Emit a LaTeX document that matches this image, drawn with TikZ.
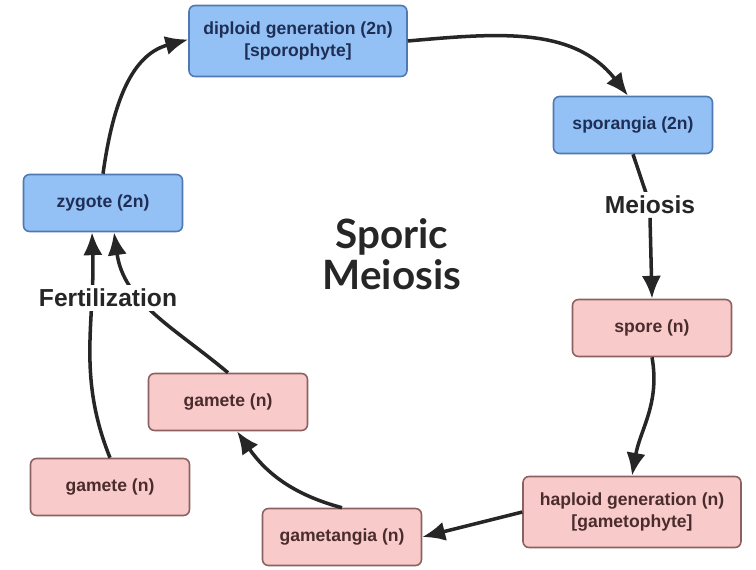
\documentclass[tikz,border=0pt]{standalone}
\usepackage{fontspec}
\setmainfont{Liberation Sans}
\newfontfamily\titlefont{Lato}
\usetikzlibrary{arrows.meta}
\definecolor{dipfill}{HTML}{93C1F5}
\definecolor{dipdraw}{HTML}{4F79B0}
\definecolor{diptext}{HTML}{1E2E55}
\definecolor{hapfill}{HTML}{F9CACA}
\definecolor{hapdraw}{HTML}{8C6161}
\definecolor{haptext}{HTML}{4A2C2C}
\definecolor{cyclegray}{HTML}{262626}
\tikzset{
  stagebox/.style = {rounded corners=0.12cm, line width=0.9pt, align=center,
    font=\bfseries\fontsize{10}{12.5}\selectfont,
    minimum width=3.18cm, minimum height=1.14cm, inner sep=0pt},
  dipbox/.style = {stagebox, draw=dipdraw, fill=dipfill, text=diptext},
  hapbox/.style = {stagebox, draw=hapdraw, fill=hapfill, text=haptext},
  bigbox/.style = {minimum width=4.36cm, minimum height=1.42cm},
  steplabel/.style = {fill=white, text=cyclegray, inner sep=2pt,
    font=\bfseries\fontsize{14}{16}\selectfont},
  cycle/.style = {->, line width=2pt, draw=cyclegray}
}
\tikzset{>={Latex[length=13pt,width=11pt]}}

\begin{document}
\begin{tikzpicture}[x=0.02cm,y=0.02cm]
  \useasboundingbox (0,0) rectangle (756,-570);
  % diploid stages
  \node[dipbox,bigbox] (diploid) at (298,-41) {diploid generation (2n)\\{[sporophyte]}};
  \node[dipbox] (sporangia) at (633,-125) {sporangia (2n)};
  \node[dipbox] (zygote) at (103,-203) {zygote (2n)};
  % haploid stages
  \node[hapbox] (spore) at (652,-328) {spore (n)};
  \node[hapbox,bigbox] (haploid) at (632,-512) {haploid generation (n)\\{[gametophyte]}};
  \node[hapbox] (gametangia) at (342,-537) {gametangia (n)};
  \node[hapbox] (gameteA) at (228,-402) {gamete (n)};
  \node[hapbox] (gameteB) at (110,-487) {gamete (n)};
  % title
  \node[text=cyclegray, align=center, font=\titlefont\bfseries\fontsize{23}{23.5}\selectfont]
    (title) at (392,-254) {Sporic\\Meiosis};
  % cycle
  \draw[cycle] (diploid.east) to[out=5,in=128] ([xshift=-0.1cm]sporangia.north);
  \draw[cycle,-] (sporangia.south) -- (650,-205) coordinate (meiosisat);
  \draw[cycle] (spore.south) to[out=-80,in=80] (haploid.north);
  \draw[cycle] (haploid.west) -- (gametangia.east);
  \draw[cycle] (gametangia.north) to[out=165,in=-55] ([xshift=0.18cm]gameteA.south);
  \draw[cycle] (gameteA.north) to[out=140,in=-82] ([xshift=0.22cm]zygote.south);
  \draw[cycle] (gameteB.north) to[out=112,in=-88] ([xshift=-0.22cm]zygote.south);
  \draw[cycle] (zygote.north) to[out=82,in=195] ([yshift=0.03cm]diploid.west);
  % labels
  \node[steplabel] (meiosis) at (meiosisat) {Meiosis};
  \draw[cycle] (meiosis.south) -- (spore.north);
  \node[steplabel] (fertilization) at (108,-298) {Fertilization};
\end{tikzpicture}
\end{document}
